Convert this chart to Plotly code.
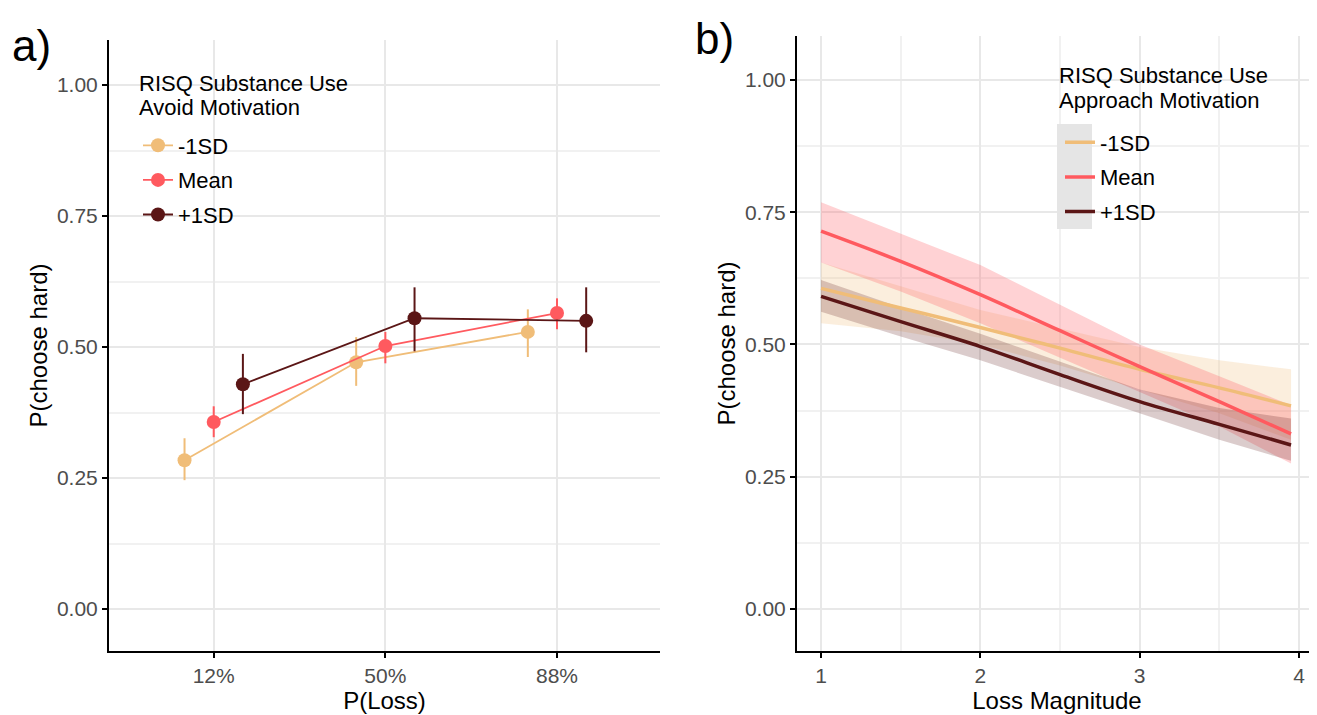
import plotly.graph_objects as go

# ---------------- data ----------------
groups = ["-1SD", "Mean", "+1SD"]
colors = ["#F0BD78", "#FF5A5F", "#5B1616"]

# Panel a
ploss_labels = ["12%", "50%", "88%"]
a_mean = {
    "-1SD": [0.284, 0.471, 0.529],
    "Mean": [0.357, 0.502, 0.565],
    "+1SD": [0.429, 0.555, 0.550],
}
a_low = {
    "-1SD": [0.246, 0.426, 0.481],
    "Mean": [0.328, 0.469, 0.534],
    "+1SD": [0.372, 0.492, 0.490],
}
a_high = {
    "-1SD": [0.326, 0.519, 0.572],
    "Mean": [0.387, 0.529, 0.593],
    "+1SD": [0.487, 0.614, 0.614],
}

# Panel b
loss_mag = [1.0, 1.5, 2.0, 2.5, 3.0, 3.5, 3.95]
b_fit = {
    "-1SD": [0.606, 0.569, 0.532, 0.493, 0.453, 0.418, 0.384],
    "Mean": [0.714, 0.657, 0.594, 0.526, 0.458, 0.392, 0.331],
    "+1SD": [0.591, 0.543, 0.496, 0.443, 0.392, 0.349, 0.310],
}
b_upper = {
    "-1SD": [0.655, 0.610, 0.565, 0.530, 0.495, 0.470, 0.453],
    "Mean": [0.769, 0.710, 0.650, 0.575, 0.500, 0.440, 0.385],
    "+1SD": [0.622, 0.570, 0.520, 0.467, 0.415, 0.380, 0.360],
}
b_lower = {
    "-1SD": [0.540, 0.525, 0.500, 0.460, 0.415, 0.370, 0.320],
    "Mean": [0.655, 0.600, 0.540, 0.475, 0.410, 0.345, 0.275],
    "+1SD": [0.562, 0.515, 0.470, 0.420, 0.370, 0.320, 0.280],
}

y_ticks = [0, 0.25, 0.5, 0.75, 1.0]
y_ticktext = ["0.00", "0.25", "0.50", "0.75", "1.00"]

legend_a_title = ["RISQ Substance Use", "Avoid Motivation"]
legend_b_title = ["RISQ Substance Use", "Approach Motivation"]

# ---------------- style ----------------
FONT = "Liberation Sans, Arial, Helvetica, sans-serif"
OFF = 8                      # page body margin of the browser
W, H = 1317 - OFF, 715 - OFF


def px(x):   # screen x -> paper fraction
    return (x - OFF) / W


def py(y):   # screen y -> paper fraction
    return 1 - (y - OFF) / H


dodge = {"-1SD": -0.17, "Mean": 0.0, "+1SD": 0.17}
band_rgba = {
    "-1SD": "rgba(240,189,120,0.25)",
    "Mean": "rgba(255,90,95,0.27)",
    "+1SD": "rgba(91,22,22,0.22)",
}

fig = go.Figure()

# Panel a traces
for g, c in zip(groups, colors):
    xs = [i + 1 + dodge[g] for i in range(len(ploss_labels))]
    fig.add_trace(go.Scatter(
        x=xs, y=a_mean[g], mode="lines+markers", name=g,
        line=dict(color=c, width=1.8),
        marker=dict(color=c, size=14),
        error_y=dict(type="data", symmetric=False,
                     array=[h - m for h, m in zip(a_high[g], a_mean[g])],
                     arrayminus=[m - l for m, l in zip(a_mean[g], a_low[g])],
                     color=c, thickness=2, width=0),
        xaxis="x", yaxis="y", legend="legend", legendgroup="a" + g,
    ))

# Panel b bands
for g in groups:
    fig.add_trace(go.Scatter(
        x=loss_mag + loss_mag[::-1],
        y=b_upper[g] + b_lower[g][::-1],
        fill="toself", fillcolor=band_rgba[g], line=dict(width=0),
        mode="lines", showlegend=False, hoverinfo="skip",
        xaxis="x2", yaxis="y2",
    ))
# Panel b lines
for g, c in zip(groups, colors):
    fig.add_trace(go.Scatter(
        x=loss_mag, y=b_fit[g], mode="lines", name=g,
        line=dict(color=c, width=3.5, shape="spline"),
        xaxis="x2", yaxis="y2", legend="legend2", legendgroup="b" + g,
    ))

axis_common = dict(
    showline=True, linecolor="black", linewidth=2,
    ticks="outside", ticklen=5, tickcolor="black", tickwidth=1.5,
    tickfont=dict(family=FONT, size=21, color="#4D4D4D"),
    gridcolor="#E8E8E8", gridwidth=1.5, zeroline=False,
    title_font=dict(family=FONT, size=24, color="black"),
    automargin=False,
)
minor_y = dict(tickvals=[0.125, 0.375, 0.625, 0.875], showgrid=True,
               gridcolor="#F1F1F1", ticks="")

legend_common = dict(
    font=dict(family=FONT, size=22, color="black"),
    xanchor="left", yanchor="middle",
    bgcolor="rgba(0,0,0,0)", tracegroupgap=3,
)

fig.update_layout(
    width=W, height=H,
    margin=dict(l=0, r=0, t=0, b=0),
    paper_bgcolor="white", plot_bgcolor="white",
    font=dict(family=FONT, color="black"),
    xaxis=dict(axis_common, domain=[px(109), px(660)], range=[0.39, 3.6],
               tickvals=[1, 2, 3], ticktext=ploss_labels,
               title=dict(text="P(Loss)", standoff=2), anchor="y"),
    yaxis=dict(axis_common, domain=[py(651), py(40)], range=[-0.080, 1.086],
               tickvals=y_ticks, ticktext=y_ticktext, minor=minor_y,
               title=dict(text="P(choose hard)", standoff=3), anchor="x"),
    xaxis2=dict(axis_common, domain=[px(797), 1.0], range=[0.849, 4.113],
                tickvals=[1, 2, 3, 4],
                minor=dict(tickvals=[1.5, 2.5, 3.5], showgrid=True,
                           gridcolor="#F1F1F1", ticks=""),
                title=dict(text="Loss Magnitude", standoff=2), anchor="y2"),
    yaxis2=dict(axis_common, domain=[py(651), py(36)], range=[-0.0794, 1.083],
                tickvals=y_ticks, ticktext=y_ticktext, minor=minor_y,
                title=dict(text="P(choose hard)", standoff=3), anchor="x2"),
    legend=dict(legend_common, x=px(138), y=py(180)),
    legend2=dict(legend_common, x=px(1060), y=py(177)),
    showlegend=True,
)

# grey key background of the panel-b legend
fig.add_shape(type="rect", xref="paper", yref="paper",
              x0=px(1057), x1=px(1092), y0=py(229), y1=py(124),
              fillcolor="#E5E5E5", line=dict(width=0), layer="above")

# legend titles
for line, yy in zip(legend_a_title, [83, 107]):
    fig.add_annotation(text=line, x=px(137), y=py(yy), xref="paper", yref="paper",
                       xanchor="left", yanchor="middle", showarrow=False,
                       font=dict(family=FONT, size=22, color="black"))
for line, yy in zip(legend_b_title, [75, 100]):
    fig.add_annotation(text=line, x=px(1057), y=py(yy), xref="paper", yref="paper",
                       xanchor="left", yanchor="middle", showarrow=False,
                       font=dict(family=FONT, size=22, color="black"))

fig.add_annotation(text="a)", x=px(10), y=py(45), xref="paper", yref="paper",
                   xanchor="left", yanchor="middle", showarrow=False,
                   font=dict(family=FONT, size=44, color="black"))
fig.add_annotation(text="b)", x=px(693), y=py(38), xref="paper", yref="paper",
                   xanchor="left", yanchor="middle", showarrow=False,
                   font=dict(family=FONT, size=44, color="black"))

fig.write_html("out.html")
